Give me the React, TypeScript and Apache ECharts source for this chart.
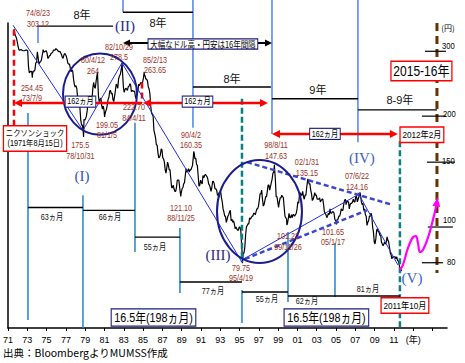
import React, { useEffect, useRef } from 'react';
import * as echarts from 'echarts';

const BASE_YEAR = 1971;
const FIRST_MONTH = 8; // first reading: Aug 1971
const Y_MIN = 53.2;
const Y_MAX = 358;
const X_MAX = 45.5;

// USD/JPY monthly readings (yen per dollar), Aug 1971 – Oct 2011
const jpy1971to1975 = [
  345, 335, 330, 326, 318,
  310, 303, 302, 303, 303, 302, 301, 301, 301, 302, 302, 302,
  301, 272, 262, 265, 264, 265, 260, 265, 265, 267, 279, 280,
  299, 288, 277, 280, 281, 284, 292, 300, 299, 299, 300, 301,
  297, 287, 288, 292, 292, 296, 297, 298, 302, 302, 302, 305,
];
const jpy1976to1980 = [
  304, 302, 300, 299, 300, 297, 294, 289, 287, 293, 296, 294,
  291, 285, 278, 277, 277, 270, 264, 267, 265, 252, 244, 240,
  242, 238, 226, 222, 226, 210, 195, 189, 189, 182, 196, 195,
  197, 200, 207, 217, 220, 217, 217, 218, 222, 238, 247, 240,
  238, 248, 257, 255, 227, 218, 222, 224, 214, 209, 213, 207,
];
const jpy1981to1985 = [
  202, 206, 209, 215, 222, 225, 234, 235, 230, 231, 222, 219,
  226, 234, 244, 243, 238, 252, 257, 259, 265, 274, 262, 240,
  232, 236, 238, 237, 235, 240, 241, 245, 243, 233, 235, 234,
  234, 233, 226, 225, 230, 233, 244, 242, 245, 247, 244, 248,
  254, 260, 257, 252, 252, 249, 240, 237, 230, 213, 204, 202,
];
const jpy1986to1990 = [
  200, 183, 179, 175, 167, 167, 159, 154, 155, 157, 163, 162,
  154, 153, 150, 143, 140, 145, 150, 147, 143, 143, 135, 128,
  128, 130, 127, 125, 125, 128, 134, 134, 134, 128, 123, 124,
  127, 128, 131, 132, 138, 144, 141, 142, 144, 141, 143, 143,
  145, 147, 155, 159, 153, 154, 148, 147, 138, 129, 130, 134,
];
const jpy1991to1995 = [
  132, 131, 138, 136, 138, 139, 138, 137, 135, 131, 130, 128,
  125, 128, 133, 133, 131, 127, 127, 126, 122, 122, 124, 124,
  125, 120, 117, 112, 110, 107, 107, 103, 105, 107, 108, 110,
  111, 104, 105, 103, 104, 102, 99, 100, 99, 98, 98, 100,
  100, 98, 90, 83, 85, 85, 88, 95, 100, 101, 102, 102,
];
const jpy1996to2000 = [
  106, 105, 106, 107, 107, 109, 109, 108, 110, 112, 112, 114,
  118, 123, 123, 126, 119, 114, 115, 118, 121, 121, 125, 130,
  130, 126, 129, 132, 135, 140, 141, 145, 135, 121, 121, 117,
  113, 117, 120, 120, 122, 121, 120, 113, 107, 106, 105, 102,
  105, 109, 106, 106, 108, 106, 108, 108, 107, 108, 109, 112,
];
const jpy2001to2005 = [
  117, 116, 122, 124, 122, 122, 125, 121, 119, 122, 122, 128,
  133, 134, 131, 131, 126, 123, 118, 119, 121, 124, 122, 122,
  119, 119, 119, 120, 117, 118, 119, 119, 115, 110, 109, 108,
  106, 107, 109, 108, 112, 109, 109, 110, 110, 109, 105, 104,
  103, 105, 105, 107, 107, 109, 112, 111, 111, 115, 118, 119,
];
const jpy2006to2011 = [
  115, 118, 117, 117, 112, 115, 116, 116, 117, 119, 117, 117,
  121, 121, 117, 119, 121, 123, 122, 117, 115, 116, 111, 112,
  108, 107, 101, 103, 104, 107, 107, 109, 107, 100, 97, 91,
  90, 93, 98, 99, 97, 97, 95, 95, 91, 90, 89, 90,
  91, 90, 91, 94, 92, 91, 88, 85, 84, 82, 83, 83,
  83, 83, 82, 83, 81, 81, 79, 77, 77, 76,
];

// annotated turning points
const extremeDates = ['73/7/9', '74/8/23', '78/10/31', '80/4/12', '81/1/5', '82/10/29', '84/4/11', '85/2/13',
  '88/11/25', '90/4/2', '95/4/19', '98/8/11', '99/11/26', '02/1/31', '05/1/17', '07/6/22'];
const extremeValues = [254.45, 303.12, 175.5, 264, 199.05, 278.5, 222.7, 263.65,
  121.1, 160.35, 79.75, 147.63, 101.22, 135.15, 101.65, 124.16];
const extremeTexts = ['254.45', '303.12', '175.5', '264', '199.05', '278.5', '222.70', '263.65',
  '121.10', '160.35', '79.75', '147.63', '101.22', '135.15', '101.65', '124.16'];
// label anchors [year, yen]
const extremeLabelAt = [[1973.49, 231], [1974.11, 368], [1978.5, 161], [1979.81, 274], [1981.26, 183], [1982.5, 298],
  [1984.06, 204], [1986.23, 275], [1988.93, 109], [1989.96, 172], [1995.15, 74.8], [1998.77, 161],
  [2000.02, 91.1], [2001.98, 145], [2004.68, 93.9], [2007.17, 132.5]];

// projection (magenta)
const projYears = [2011.62, 2011.93, 2012.45, 2012.97, 2013.28, 2013.49, 2013.69, 2014.0, 2014.52, 2015.04, 2015.35, 2015.46];
const projValues = [76.4, 78.9, 87.7, 93.9, 94.5, 90.5, 85.5, 86.6, 93.4, 104.5, 113, 117];

// vertical markers [year, yenFrom, yenTo]
const topMarkers = [[1982.92, 430, 383], [1990.17, 430, 186], [1998.36, 430, 179], [2007.27, 430, 170], [1974.11, 349, 316]];
const cycleMarkers = [[1973.07, 204, 55.9], [1978.77, 122, 53.2], [1984.16, 192, 85.5], [1988.82, 99.4, 66.2],
  [1995.25, 67.5, 54.9], [2000.02, 96.9, 62.6], [2004.89, 90.5, 64.6]];
const tealMarkers = [[1995.25, 223, 80.3], [2011.62, 171, 53.2]];
const redMarkers = [[1971.62, 343, 187], [1984.89, 247, 217]];
const brownMarkers = [[2015.46, 358, 75]];

// period spans [yearFrom, yearTo, yen]
const spanLines = [[1974.0, 1981.88, 351], [1982.92, 1990.17, 383], [1990.17, 1998.25, 240], [1998.36, 2007.27, 223],
  [2007.27, 2015.46, 208], [1973.07, 1978.77, 113], [1978.77, 1984.16, 111], [1984.16, 1988.82, 93.9],
  [1988.82, 1995.25, 70.9], [1995.25, 2000.02, 66.6], [2000.02, 2011.62, 65]];
const yearSpanTexts = ['8年', '8年', '8年', '9年', '8-9年'];
const yearSpanAt = [[1978.67, 376], [1986.54, 358], [1994.21, 252], [2003.12, 235], [2011.62, 221]];
const monthSpanTexts = ['63ヵ月', '66ヵ月', '55ヵ月', '77ヵ月', '55ヵ月', '62ヵ月', '81ヵ月'];
const monthSpanAt = [[1975.56, 106], [1981.57, 106], [1986.23, 88.2], [1992.24, 67], [1997.84, 63.8], [2001.98, 63], [2008.31, 67.9]];

// 162-month arrows [yearFrom, yearTo, yen, headStart, headEnd]
const redArrows = [[1971.62, 1984.89, 217, 1, 0], [1984.99, 1997.94, 217, 1, 1], [1998.36, 2011.41, 179, 1, 1]];
const cycleBoxAt = [[1978.51, 219], [1990.64, 219], [2003.85, 179]];
const blackArrows = [[1982.92, 1998.36, 316, 1, 1]];

// trend lines [year1, yen1, year2, yen2]
const trendLines = [[1971.52, 353, 1978.77, 183], [1978.77, 183, 1982.81, 279], [1982.81, 279, 1995.25, 80.3],
  [1995.25, 81.4, 2007.17, 122], [2007.27, 124, 2011.41, 78.9]];
const trendDashed = [[1995.77, 150, 2010.79, 115], [1995.56, 81.9, 2008.2, 111]];

// circled zones [yearLeft, yearRight, yenTop, yenBottom]
const zones = [[1976.7, 1984.37, 296, 178], [1992.66, 2001.47, 152, 79.9]];

const waveTexts = ['(I)', '(II)', '(III)', '(IV)', '(V)'];
const waveAt = [[1978.67, 138], [1983.12, 351], [1992.76, 83.9], [2007.68, 154], [2012.87, 72.7]];
const waveColors = ['#3355c0', '#2a2a88', '#2a2a88', '#3a62c8', '#3a62c8'];

const redBoxTexts = ['2015-16年', '2012年2月', '2011年10月', 'ニクソンショック\n(1971年8月15日)'];
const redBoxAt = [[2013.85, 265], [2013.9, 178], [2012.14, 61.2], [1973.8, 174]];
const redBoxSizes = [14, 9.5, 9.5, 8.5];
const redBoxLineHeights = [15, 11, 11, 10.5];
const navyBoxTexts = ['16.5年(198ヵ月)', '16.5年(198ヵ月)'];
const navyBoxAt = [[1986.08, 56.8], [2004.0, 56.8]];

const scaleValues = [300, 200, 150, 100, 80];
const scaleTickFrom = [2014.21, 2013.9, 2014.42, 2014.52, 2013.9];
const scaleTickTo = [2016.39, 2016.39, 2017.32, 2017.11, 2016.08];
const scaleLabelYear = [2015.97, 2016.08, 2015.97, 2016.08, 2016.49];
const scaleLabelShift = [-5, -2, -1, -7, 0];

const T = (year: number) => year - BASE_YEAR;
const dateToT = (s: string) => {
  const [yy, m, d] = s.split('/').map(Number);
  const year = yy >= 70 ? 1900 + yy : 2000 + yy;
  return year - BASE_YEAR + (m - 1) / 12 + (d - 1) / 365;
};

const FONT = 'Liberation Sans, "Noto Sans CJK JP", sans-serif';
const JP = '"Noto Sans CJK JP", Liberation Sans, sans-serif';

function segSeries(segs: number[][], style: any, z = 3) {
  return {
    type: 'custom', coordinateSystem: 'cartesian2d', clip: false, silent: true, z,
    encode: { x: [0, 2], y: [1, 3] },
    data: segs.map((s) => [T(s[0]), s[1], T(s[2]), s[3]]),
    renderItem: (p: any, api: any) => {
      const a = api.coord([api.value(0), api.value(1)]);
      const b = api.coord([api.value(2), api.value(3)]);
      return { type: 'line', shape: { x1: a[0], y1: a[1], x2: b[0], y2: b[1] }, style: { fill: null, ...style } };
    },
  };
}
const vSegs = (m: number[][]) => m.map((v) => [v[0], v[1], v[0], v[2]]);
const hSegs = (m: number[][]) => m.map((v) => [v[0], v[2], v[1], v[2]]);

function arrowSeries(arrows: number[][], color: string, width: number, head: number, z = 4) {
  return {
    type: 'custom', coordinateSystem: 'cartesian2d', clip: false, silent: true, z,
    encode: { x: [0, 1], y: 2 },
    data: arrows.map((a) => [T(a[0]), T(a[1]), a[2], a[3], a[4]]),
    renderItem: (p: any, api: any) => {
      const a = api.coord([api.value(0), api.value(2)]);
      const b = api.coord([api.value(1), api.value(2)]);
      const y = a[1];
      const hw = head * 0.5;
      const children: any[] = [{
        type: 'line',
        shape: { x1: a[0] + (api.value(3) ? head * 0.8 : 0), y1: y, x2: b[0] - (api.value(4) ? head * 0.8 : 0), y2: y },
        style: { stroke: color, lineWidth: width },
      }];
      if (api.value(3)) children.push({ type: 'polygon', shape: { points: [[a[0], y], [a[0] + head, y - hw], [a[0] + head, y + hw]] }, style: { fill: color } });
      if (api.value(4)) children.push({ type: 'polygon', shape: { points: [[b[0], y], [b[0] - head, y - hw], [b[0] - head, y + hw]] }, style: { fill: color } });
      return { type: 'group', children };
    },
  };
}

function textSeries(texts: string[], at: number[][], style: any, z = 6, opts: any = {}) {
  return {
    type: 'custom', coordinateSystem: 'cartesian2d', clip: false, silent: true, z,
    encode: { x: 0, y: 1 },
    data: at.map((a) => [T(a[0]), a[1]]),
    renderItem: (p: any, api: any) => {
      const i = p.dataIndex;
      const c = api.coord([api.value(0), api.value(1)]);
      const st: any = { text: texts[i], align: 'center', verticalAlign: 'middle', ...style };
      if (opts.colors) st.fill = opts.colors[i];
      if (opts.sizes) st.fontSize = opts.sizes[i];
      if (opts.lineHeights) st.lineHeight = opts.lineHeights[i];
      const sx = opts.scaleX || 1;
      return { type: 'text', x: c[0], y: c[1], scaleX: sx, scaleY: 1, style: st };
    },
  };
}

function buildOption() {
  const monthly = [...jpy1971to1975, ...jpy1976to1980, ...jpy1981to1985, ...jpy1986to1990,
    ...jpy1991to1995, ...jpy1996to2000, ...jpy2001to2005, ...jpy2006to2011];
  const price: number[][] = monthly.map((v, i) => [(FIRST_MONTH - 1 + i + 0.5) / 12, v]);
  extremeDates.forEach((d, i) => price.push([dateToT(d), extremeValues[i]]));
  price.sort((a, b) => a[0] - b[0]);

  const extremeLabels = extremeDates.map((d, i) => (i % 2 === 1 ? `${d}\n${extremeTexts[i]}` : `${extremeTexts[i]}\n${d}`));

  const proj = projYears.map((y, i) => {
    const last = i === projYears.length - 1;
    return last
      ? { value: [T(y), projValues[i]], symbol: 'triangle', symbolSize: [8, 9], symbolRotate: -8, itemStyle: { color: '#ff00ff' } }
      : { value: [T(y), projValues[i]], symbol: 'none' };
  });

  const scaleSegs = scaleValues.map((v, i) => [scaleTickFrom[i], v, scaleTickTo[i], v]);

  return {
    animation: false,
    backgroundColor: '#ffffff',
    grid: { left: 8, right: 18, top: 23, bottom: 35, containLabel: false },
    xAxis: {
      type: 'value', min: 0, max: X_MAX, interval: 2,
      axisLine: { show: true, lineStyle: { color: '#000', width: 1.5 } },
      axisTick: { show: true, length: 3, lineStyle: { color: '#000' } },
      splitLine: { show: false },
      axisLabel: {
        color: '#000', fontSize: 9, fontFamily: FONT, margin: 7, showMaxLabel: false,
        formatter: (v: number) => {
          if (v === 42) return '(年)';
          if (v > 40 || v % 2 !== 0) return '';
          return String((BASE_YEAR + v) % 100).padStart(2, '0');
        },
      },
    },
    yAxis: {
      type: 'log', logBase: 10, min: Y_MIN, max: Y_MAX,
      axisLine: { show: true, lineStyle: { color: '#000', width: 1.5 } },
      axisTick: { show: false }, axisLabel: { show: false }, splitLine: { show: false },
    },
    graphic: [
      { type: 'text', left: 3, top: 347, style: { text: '出典：BloombergよりMUMSS作成', fontSize: 10.5, fontFamily: JP, fill: '#000' } },
    ],
    series: [
      {
        type: 'line', name: 'USD/JPY', data: price, showSymbol: false, symbol: 'none', z: 2,
        lineStyle: { color: '#000', width: 1.2 },
      },
      {
        type: 'line', name: 'projection', data: proj, smooth: 0.35, z: 5,
        lineStyle: { color: '#ff00ff', width: 2.2 },
      },
      segSeries(vSegs(topMarkers), { stroke: '#3b6cf0', lineWidth: 1.3 }),
      segSeries(vSegs(cycleMarkers), { stroke: '#2186c8', lineWidth: 1.5 }),
      segSeries(vSegs(tealMarkers), { stroke: '#0a8080', lineWidth: 2.5, lineDash: [6, 3] }),
      segSeries(vSegs(redMarkers), { stroke: '#ff0000', lineWidth: 2.5, lineDash: [6, 4] }),
      segSeries(vSegs(brownMarkers), { stroke: '#663300', lineWidth: 3, lineDash: [8, 5] }),
      segSeries(hSegs(spanLines), { stroke: '#000', lineWidth: 1.4 }),
      segSeries(trendLines, { stroke: '#1f2fe8', lineWidth: 1 }),
      segSeries(trendDashed, { stroke: '#3a46cc', lineWidth: 2.5, lineDash: [5, 3] }),
      segSeries(scaleSegs, { stroke: '#000', lineWidth: 1.2 }),
      {
        type: 'custom', coordinateSystem: 'cartesian2d', clip: false, silent: true, z: 4,
        encode: { x: [0, 1], y: [2, 3] },
        data: zones.map((c) => [T(c[0]), T(c[1]), c[2], c[3]]),
        renderItem: (p: any, api: any) => {
          const a = api.coord([api.value(0), api.value(2)]);
          const b = api.coord([api.value(1), api.value(3)]);
          return {
            type: 'ellipse',
            shape: { cx: (a[0] + b[0]) / 2, cy: (a[1] + b[1]) / 2, rx: Math.abs(b[0] - a[0]) / 2, ry: Math.abs(b[1] - a[1]) / 2 },
            style: { fill: 'none', stroke: '#1c1c8c', lineWidth: 2 },
          };
        },
      },
      arrowSeries(redArrows, '#ff0000', 2.5, 8),
      arrowSeries(blackArrows, '#000', 2, 7),
      textSeries(extremeLabels, extremeLabelAt, { fill: '#9a3326', fontSize: 8.5, fontFamily: FONT, lineHeight: 10.5 }, 6, { scaleX: 0.85 }),
      textSeries(yearSpanTexts, yearSpanAt, { fill: '#111', fontSize: 11, fontFamily: FONT }),
      textSeries(monthSpanTexts, monthSpanAt, { fill: '#111', fontSize: 9, fontFamily: FONT }, 6, { scaleX: 0.8 }),
      textSeries(waveTexts, waveAt, { fontSize: 15, fontFamily: 'Liberation Serif, serif' }, 6, { colors: waveColors }),
      textSeries(cycleBoxAt.map(() => '162ヵ月'), cycleBoxAt, {
        fill: '#000', fontSize: 9, fontFamily: FONT, backgroundColor: '#fff', borderColor: '#1a1a80', borderWidth: 1.2, padding: [1, 2, 0, 2],
      }, 7, { scaleX: 0.8 }),
      textSeries(['大幅なドル高・円安は16年間隔'], [[1991.2, 314]], {
        fill: '#000', fontSize: 9, fontFamily: JP, backgroundColor: '#fff', borderColor: '#1a1a80', borderWidth: 1.2, padding: [0, 2, 0, 2],
      }, 7, { scaleX: 0.83 }),
      textSeries(redBoxTexts, redBoxAt, {
        fill: '#000', fontFamily: FONT, backgroundColor: '#fff', borderColor: '#ff0000', borderWidth: 1.5, padding: [2, 2, 1, 2],
      }, 7, { sizes: redBoxSizes, lineHeights: redBoxLineHeights, scaleX: 0.86 }),
      textSeries(navyBoxTexts, navyBoxAt, {
        fill: '#000', fontSize: 13, fontFamily: FONT, backgroundColor: '#fff', borderColor: '#1a1a80', borderWidth: 1.3, padding: [2, 3, 1, 3],
      }, 7, { scaleX: 0.83 }),
      {
        type: 'custom', coordinateSystem: 'cartesian2d', clip: false, silent: true, z: 6,
        encode: { x: 0, y: 1 },
        data: scaleValues.map((v, i) => [T(scaleLabelYear[i]), v]),
        renderItem: (p: any, api: any) => {
          const i = p.dataIndex;
          const c = api.coord([api.value(0), api.value(1)]);
          return {
            type: 'text', x: c[0], y: c[1] + scaleLabelShift[i], scaleX: 0.9,
            style: { text: String(scaleValues[i]), fill: '#000', fontSize: 8.5, fontFamily: FONT, align: 'left', verticalAlign: 'middle' },
          };
        },
      },
      textSeries(['(円)'], [[2016.6, 349]], { fill: '#000', fontSize: 8, fontFamily: JP }),
    ],
  };
}

export default function App() {
  const ref = useRef<HTMLDivElement>(null);
  useEffect(() => {
    const chart = echarts.init(ref.current as HTMLDivElement, null, { renderer: 'svg' });
    chart.setOption(buildOption() as any);
    return () => chart.dispose();
  }, []);
  return <div ref={ref} style={{ position: 'absolute', left: 0, top: 0, width: 465, height: 363, background: '#fff' }} />;
}
